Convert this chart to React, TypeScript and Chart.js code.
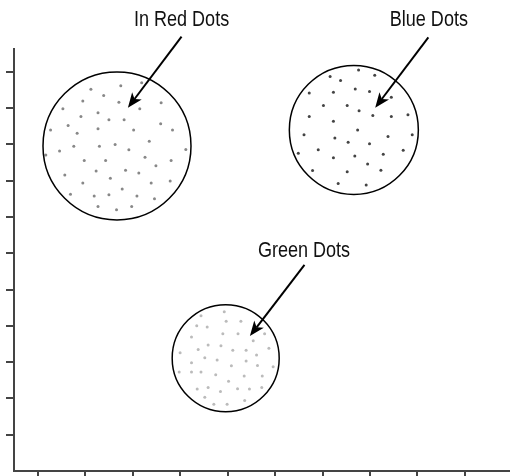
import React, { useEffect, useRef } from "react";
import { Chart, registerables } from "chart.js";

Chart.register(...registerables);

// Axis ticks (no labels)
const X_TICKS = [0, 1, 2, 3, 4, 5, 6, 7, 8, 9];
const Y_TICKS = [1, 2, 3, 4, 5, 6, 7, 8, 9, 10, 11];

// Cluster outlines: [x, y, radius(px)]
const CLUSTER_NAMES = ["In Red Dots", "Blue Dots", "Green Dots"];
const CLUSTER_X = [1.67, 6.66, 3.96];
const CLUSTER_Y = [8.96, 9.4, 3.11];
const CLUSTER_R = [74, 64.5, 53.5];

// Dots inside each cluster
const RED_DOTS: [number, number][] = [
  [1.75, 10.62], [2.19, 10.7], [1.12, 10.52], [1.39, 10.35], [0.95, 10.2],
  [1.71, 10.16], [2.15, 9.98], [2.6, 10.15], [0.53, 9.98], [1.27, 9.87],
  [0.91, 9.77], [1.5, 9.68], [1.82, 9.68], [0.64, 9.52], [1.27, 9.43],
  [0.83, 9.31], [2.02, 9.4], [2.59, 9.57], [2.84, 9.4], [0.27, 9.4],
  [2.35, 9.09], [3.12, 8.86], [0.76, 8.95], [1.3, 8.95], [1.63, 9.0],
  [1.92, 8.85], [0.46, 8.82], [0.17, 8.71], [2.26, 8.65], [0.98, 8.56],
  [1.43, 8.56], [2.81, 8.56], [2.49, 8.41], [1.23, 8.27], [1.85, 8.29],
  [2.13, 8.21], [0.57, 8.16], [1.53, 8.07], [2.39, 7.94], [2.79, 7.99],
  [0.95, 7.94], [1.78, 7.77], [0.69, 7.63], [1.19, 7.58], [1.5, 7.61],
  [2.09, 7.58], [2.46, 7.5], [1.27, 7.29], [1.66, 7.2], [1.98, 7.29],
];

const BLUE_DOTS: [number, number][] = [
  [6.76, 11.05], [7.1, 10.91], [6.16, 10.87], [6.38, 10.76], [5.72, 10.42],
  [6.23, 10.44], [6.69, 10.53], [6.99, 10.46], [7.45, 10.3], [6.02, 10.07],
  [6.52, 10.07], [6.77, 9.93], [7.06, 9.8], [7.45, 9.77], [7.8, 9.82],
  [5.72, 9.77], [6.23, 9.64], [6.74, 9.4], [5.61, 9.27], [6.26, 9.18],
  [7.38, 9.22], [7.89, 9.27], [6.54, 9.06], [6.99, 9.02], [5.91, 8.85],
  [7.7, 8.84], [5.49, 8.76], [6.23, 8.63], [6.68, 8.68], [7.28, 8.73],
  [6.95, 8.46], [5.79, 8.28], [6.52, 8.25], [7.23, 8.29], [6.33, 7.92],
  [6.92, 7.88],
];

const GREEN_DOTS: [number, number][] = [
  [3.93, 4.39], [3.44, 4.28], [3.97, 4.13], [4.28, 4.13], [3.35, 4.0],
  [3.57, 3.97], [3.9, 3.78], [4.22, 3.78], [4.54, 3.59], [4.78, 3.78],
  [3.24, 3.69], [3.59, 3.47], [3.86, 3.45], [3.38, 3.35], [4.11, 3.33],
  [4.39, 3.33], [4.87, 3.38], [3.0, 3.26], [3.52, 3.12], [3.78, 3.06],
  [4.39, 3.03], [4.61, 3.2], [3.24, 2.98], [4.08, 2.9], [4.63, 2.91],
  [4.96, 2.87], [2.98, 2.73], [3.24, 2.73], [3.44, 2.73], [3.75, 2.65],
  [4.35, 2.62], [4.73, 2.62], [4.02, 2.47], [3.36, 2.26], [3.59, 2.3],
  [3.85, 2.19], [4.21, 2.27], [4.46, 2.26], [4.72, 2.3], [3.52, 2.03],
  [3.71, 1.84], [3.99, 1.84], [4.36, 1.94],
];

// Callout labels and arrows (data coordinates)
const LABEL_X = [3.03, 8.24, 5.61];
const LABEL_Y = [12.26, 12.26, 5.9];
const ARROW_FROM: [number, number][] = [[3.03, 11.97], [8.23, 11.95], [5.62, 5.68]];
const ARROW_TO: [number, number][] = [[1.9, 10.01], [7.11, 10.01], [4.47, 3.72]];

const toPts = (arr: [number, number][]) => arr.map(([x, y]) => ({ x, y }));

const calloutPlugin = {
  id: "callouts",
  afterDatasetsDraw(chart: any) {
    const { ctx } = chart;
    const xs = chart.scales.x;
    const ys = chart.scales.y;
    ctx.save();
    ctx.fillStyle = "#111";
    ctx.font = "22px 'Liberation Sans', Arial, sans-serif";
    ctx.textAlign = "center";
    ctx.textBaseline = "alphabetic";
    CLUSTER_NAMES.forEach((name, i) => {
      ctx.save();
      ctx.translate(xs.getPixelForValue(LABEL_X[i]), ys.getPixelForValue(LABEL_Y[i]));
      ctx.scale(0.82, 1);
      ctx.fillText(name, 0, 0);
      ctx.restore();
    });
    ARROW_FROM.forEach((from, i) => {
      const x0 = xs.getPixelForValue(from[0]);
      const y0 = ys.getPixelForValue(from[1]);
      const x1 = xs.getPixelForValue(ARROW_TO[i][0]);
      const y1 = ys.getPixelForValue(ARROW_TO[i][1]);
      const ang = Math.atan2(y1 - y0, x1 - x0);
      const headLen = 15;
      const notch = 11;
      const half = 6;
      const ux = Math.cos(ang);
      const uy = Math.sin(ang);
      ctx.strokeStyle = "#000";
      ctx.lineWidth = 2;
      ctx.beginPath();
      ctx.moveTo(x0, y0);
      ctx.lineTo(x1 - ux * notch, y1 - uy * notch);
      ctx.stroke();
      ctx.fillStyle = "#000";
      ctx.beginPath();
      ctx.moveTo(x1, y1);
      ctx.lineTo(x1 - ux * headLen - uy * half, y1 - uy * headLen + ux * half);
      ctx.lineTo(x1 - ux * notch, y1 - uy * notch);
      ctx.lineTo(x1 - ux * headLen + uy * half, y1 - uy * headLen - ux * half);
      ctx.closePath();
      ctx.fill();
    });
    ctx.restore();
  },
};

export default function App() {
  const ref = useRef<HTMLCanvasElement | null>(null);
  useEffect(() => {
    if (!ref.current) return;
    const axisColor = "#444";
    const chart = new Chart(ref.current, {
      type: "scatter",
      data: {
        datasets: [
          {
            type: "bubble",
            data: CLUSTER_X.map((x, i) => ({ x, y: CLUSTER_Y[i], r: CLUSTER_R[i] })),
            backgroundColor: "rgba(0,0,0,0)",
            borderColor: "#000",
            borderWidth: 1.5,
            clip: false,
          } as any,
          { data: toPts(RED_DOTS), pointRadius: 1.5, backgroundColor: "#888", borderWidth: 0 },
          { data: toPts(BLUE_DOTS), pointRadius: 1.5, backgroundColor: "#444", borderWidth: 0 },
          { data: toPts(GREEN_DOTS), pointRadius: 1.5, backgroundColor: "#bbb", borderWidth: 0 },
        ],
      },
      options: {
        responsive: false,
        animation: false,
        events: [],
        layout: { autoPadding: false, padding: { left: 6, top: 49, right: 0, bottom: 0 } },
        plugins: { legend: { display: false }, tooltip: { enabled: false } },
        scales: {
          x: {
            type: "linear",
            min: -0.5,
            max: 9.95,
            afterBuildTicks: (s: any) => {
              s.ticks = X_TICKS.map((v) => ({ value: v }));
            },
            ticks: { display: false },
            grid: { drawOnChartArea: false, drawTicks: true, tickLength: 8, color: axisColor, lineWidth: 2 },
            border: { display: true, color: axisColor, width: 2 },
          },
          y: {
            type: "linear",
            min: 0,
            max: 11.63,
            afterBuildTicks: (s: any) => {
              s.ticks = Y_TICKS.map((v) => ({ value: v }));
            },
            ticks: { display: false },
            grid: { drawOnChartArea: false, drawTicks: true, tickLength: 8, color: axisColor, lineWidth: 2 },
            border: { display: true, color: axisColor, width: 2 },
          },
        },
      } as any,
      plugins: [calloutPlugin],
    });
    return () => chart.destroy();
  }, []);
  return (
    <canvas
      ref={ref}
      width={510}
      height={479}
      style={{ position: "fixed", left: 0, top: 0, display: "block" }}
    />
  );
}
